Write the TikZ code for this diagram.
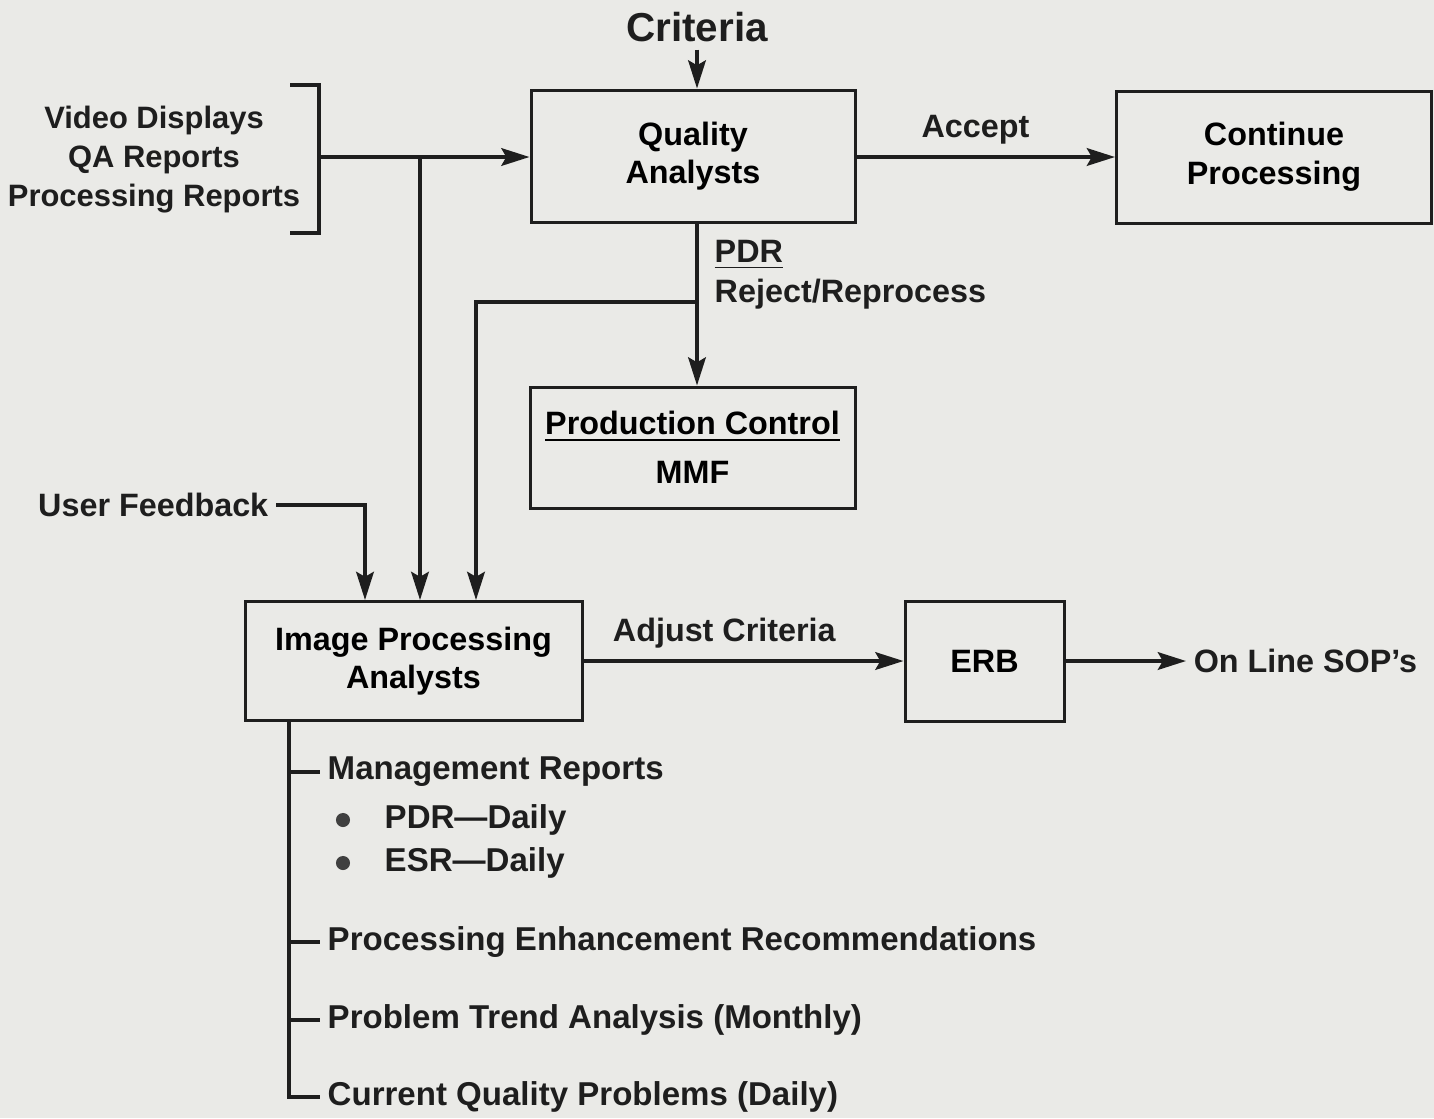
\documentclass[tikz,border=0pt]{standalone}
\usepackage{fontspec}
\setmainfont{Liberation Sans}
\usetikzlibrary{arrows.meta, positioning}
\definecolor{papercol}{HTML}{EAEAE7}
\definecolor{inkcol}  {HTML}{1E1E1E}
\tikzset{
  box/.style={rectangle, draw=inkcol, line width=0.85pt, align=center, inner sep=0pt},
  lbl/.style={text=inkcol, inner sep=2pt},
  arr/.style={-{Stealth[length=8pt, width=5pt, inset=1.4pt]}, draw=inkcol, line width=1.1pt},
  wire/.style={draw=inkcol, line width=1.1pt},
  dot/.style={circle, fill=inkcol!85, inner sep=0pt, minimum size=4pt},
}

\begin{document}
\begin{tikzpicture}[x=0.1mm, y=-0.1mm, font=\bfseries\fontsize{9.2}{11}\selectfont]
  % ── paper ─────────────────────────────────────────────────────────
  \fill[papercol] (0,0) rectangle (1434,1118);
  \useasboundingbox (0,0) rectangle (1434,1118);
  % ── boxes ─────────────────────────────────────────────────────────
  \node[box, minimum width=32.4mm, minimum height=13.2mm] (qa)   at ( 693,156) {Quality\\Analysts};
  \node[box, minimum width=31.5mm, minimum height=13.2mm] (cont) at (1274,157) {Continue\\Processing};
  \node[box, minimum width=32.5mm, minimum height=12.1mm] (prod) at (692.5,447.5)
    {\underline{Production Control}\\[3pt]MMF};
  \node[box, minimum width=33.7mm, minimum height=11.9mm] (ipa)  at (413.5,661) {Image Processing\\Analysts};
  \node[box, minimum width=15.9mm, minimum height=12.0mm] (erb)  at (984.5,661) {ERB};
  % ── free texts ────────────────────────────────────────────────────
  \node[lbl, font=\bfseries\fontsize{11.5}{13}\selectfont] (crit) at (697,27) {Criteria};
  \node[lbl, align=center, font=\bfseries\fontsize{8.8}{11.1}\selectfont] (inputs) at (154,160)
    {Video Displays\\QA Reports\\Processing Reports};
  \node[lbl, anchor=east] (userfb) at (276,505) {User Feedback};
  \node[lbl, anchor=west] (pdr)    at (707,255) {\underline{PDR}};
  \node[lbl, anchor=west] (rej)    at (707,294) {Reject/Reprocess};
  \node[lbl, anchor=west] (sop)    at (1186,661) {On Line SOP's};
  % ── junction points ───────────────────────────────────────────────
  \coordinate (brk) at (319,157);
  \coordinate (j1)  at (420,157);
  \coordinate (j2)  at (697,302);
  \coordinate (j3)  at (476,302);
  \coordinate (j4)  at (365,505);
  \coordinate (trunk) at (289,720);
  % ── bracket round the inputs ──────────────────────────────────────
  \draw[wire, line width=0.9pt] (290,85) -- (319,85) -- (319,233) -- (290,233);
  % ── flow arrows ───────────────────────────────────────────────────
  \draw[arr] (crit.south) -- (crit.south |- qa.north);
  \draw[arr] (brk) -- (brk -| qa.west);
  \draw[arr] (j1) -- (j1 |- ipa.north);
  \draw[arr] (qa.east |- brk) -- node[lbl, above=1pt, pos=0.46]{Accept} (cont.west |- brk);
  \draw[arr] (j2 |- qa.south) -- (j2 |- prod.north);
  \draw[arr] (j2) -- (j3) -- (j3 |- ipa.north);
  \draw[arr] (userfb.east) -| (j4 |- ipa.north);
  \draw[arr] (ipa.east) -- node[lbl, above=1pt, pos=0.44]{Adjust Criteria} (ipa.east -| erb.west);
  \draw[arr] (erb.east) -- (erb.east -| sop.west);
  % ── report list hanging from the analysts ─────────────────────────
  \begin{scope}[font=\bfseries\fontsize{9.4}{11}\selectfont]
    \node[lbl, anchor=west] (mgmt) at (320,772)  {Management Reports};
    \node[dot] (d1) at (343,820) {};
    \node[lbl, anchor=west] (pdrd) at (377,820)  {PDR—Daily};
    \node[dot] (d2) at (343,863) {};
    \node[lbl, anchor=west] (esrd) at (377,863)  {ESR—Daily};
    \node[lbl, anchor=west] (enh)  at (320,942)  {Processing Enhancement Recommendations};
    \node[lbl, anchor=west] (trend) at (320,1020) {Problem Trend Analysis (Monthly)};
    \node[lbl, anchor=west] (curr) at (320,1097) {Current Quality Problems (Daily)};
  \end{scope}
  \draw[wire] (trunk) -- (trunk |- curr.west) -- (curr.west);
  \draw[wire] (trunk |- mgmt.west)  -- (mgmt.west);
  \draw[wire] (trunk |- enh.west)   -- (enh.west);
  \draw[wire] (trunk |- trend.west) -- (trend.west);
\end{tikzpicture}
\end{document}
